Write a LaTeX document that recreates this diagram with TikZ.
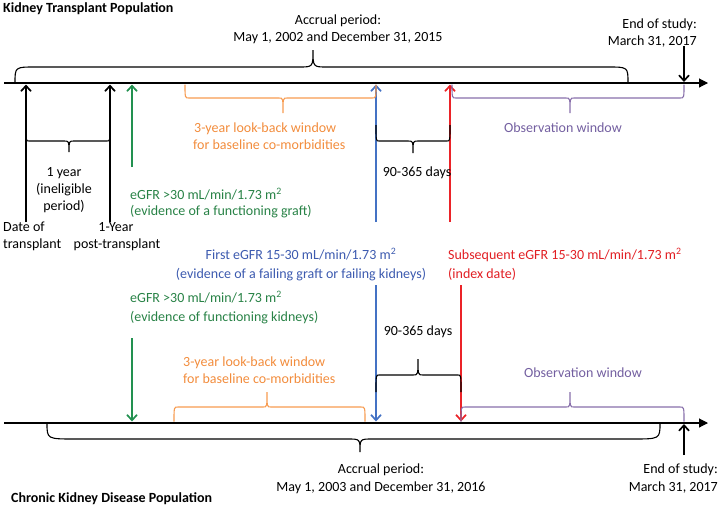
\documentclass[tikz,border=0pt]{standalone}
\usepackage{fontspec}
\setmainfont{Carlito}
\usetikzlibrary{arrows.meta}
\definecolor{kgreen}{RGB}{34,145,80}
\definecolor{kgreentxt}{RGB}{40,130,70}
\definecolor{kblue}{RGB}{68,114,196}
\definecolor{kbluetxt}{RGB}{60,90,175}
\definecolor{kred}{RGB}{235,35,40}
\definecolor{kredtxt}{RGB}{225,30,35}
\definecolor{korange}{RGB}{247,155,80}
\definecolor{korangetxt}{RGB}{242,140,60}
\definecolor{kpurple}{RGB}{135,110,170}
\definecolor{kpurpletxt}{RGB}{115,95,160}
% brace: style, x1, x2, xtip, yend, ybar, ytip, end radius, tip radius
\newcommand{\tlbrace}[9]{\draw[#1] (#2,#5) .. controls (#2,#6) .. ({#2+#8},#6) -- ({#4-#9},#6) .. controls (#4,#6) .. (#4,#7) .. controls (#4,#6) .. ({#4+#9},#6) -- ({#3-#8},#6) .. controls (#3,#6) .. (#3,#5);}
\tikzset{
  timeline/.style={line width=1.1pt, -{Triangle[length=9pt,width=9pt]}},
  evarrow/.style={line width=1.2pt, -{Straight Barb[length=5.5pt,width=10pt,line width=1.7pt]}},
  brc/.style={line width=1.1pt},
  lt/.style={inner sep=0pt, anchor=base west, font=\fontsize{14}{17}\selectfont},
  ct/.style={inner sep=0pt, anchor=base, font=\fontsize{14}{17}\selectfont},
  rt/.style={inner sep=0pt, anchor=base east, font=\fontsize{14}{17}\selectfont},
  title/.style={inner sep=0pt, anchor=base west, font=\fontsize{14}{17}\selectfont\bfseries},
}
\begin{document}
\begin{tikzpicture}[x=1pt,y=-1pt]
\useasboundingbox (0,0) rectangle (720,507);
% ---------------- timelines
\coordinate (tl0) at (4,83);  \coordinate (tl1) at (708,83);
\coordinate (bl0) at (4,423); \coordinate (bl1) at (708,423);
\draw[timeline] (tl0) -- (tl1);
\draw[timeline] (bl0) -- (bl1);

% ---------------- top section
\node[title] (ttitle) at (3,12) {Kidney Transplant Population};
\tlbrace{brc,black}{15}{628}{313}{83}{67}{50}{20}{14}
\node[ct] (tacc1) at (338,24) {Accrual period:};
\node[ct] (tacc2) at (338,41) {May 1, 2002 and December 31, 2015};
\node[rt] (tend1) at (697,28) {End of study:};
\node[rt] (tend2) at (697,45) {March 31, 2017};
\coordinate (tE0) at (684,46); \coordinate (tE1) at (684,82);
\draw[evarrow,black] (tE0) -- (tE1);

\coordinate (tA0) at (26,222);  \coordinate (tA1) at (26,84.5);
\coordinate (tB0) at (110,222); \coordinate (tB1) at (110,84.5);
\coordinate (tG0) at (132,167); \coordinate (tG1) at (132,84.5);
\coordinate (tU0) at (376,222); \coordinate (tU1) at (376,84.5);
\coordinate (tR0) at (450,222); \coordinate (tR1) at (450,84.5);
\draw[evarrow,black] (tA0) -- (tA1);
\draw[evarrow,black] (tB0) -- (tB1);
\draw[evarrow,kgreen] (tG0) -- (tG1);
\draw[evarrow,kblue] (tU0) -- (tU1);
\draw[evarrow,kred] (tR0) -- (tR1);

\tlbrace{brc,black}{26}{110}{69}{125}{141}{152}{3}{5}
\node[ct] (ty1) at (64,176) {1 year};
\node[ct] (ty2) at (64,193) {(ineligible};
\node[ct] (ty3) at (64,210) {period)};
\node[lt] (tdate1) at (3,231.5) {Date of};
\node[lt] (tdate2) at (3,248.5) {transplant};
\node[ct] (tpost1) at (116,231.5) {1-Year};
\node[ct] (tpost2) at (117,248.5) {post-transplant};

\node[lt,text=kgreentxt] (tgr1) at (130,199.5) {eGFR >30 mL/min/1.73 m\textsuperscript{2}};
\node[lt,text=kgreentxt] (tgr2) at (130,215.5) {(evidence of a functioning graft)};

\tlbrace{brc,korange}{185}{376}{283}{84.5}{98}{113}{4}{4}
\node[lt,text=korangetxt] (tor1) at (194,132.5) {3-year look-back window};
\node[lt,text=korangetxt] (tor2) at (193,149.5) {for baseline co-morbidities};

\tlbrace{brc,black}{376}{450}{413}{125}{141}{153}{3}{5}
\node[ct] (tdays) at (417,176.5) {90-365 days};

\tlbrace{brc,kpurple}{452}{684}{570}{84.5}{98}{113}{4}{4}
\node[ct,text=kpurpletxt] (tobs) at (563,132.5) {Observation window};

% ---------------- middle texts
\node[ct,text=kbluetxt] (mb1) at (301,259.5) {First eGFR 15-30 mL/min/1.73 m\textsuperscript{2}};
\node[ct,text=kbluetxt] (mb2) at (301,278.5) {(evidence of a failing graft or failing kidneys)};
\node[lt,text=kredtxt] (mr1) at (448,259.5) {Subsequent eGFR 15-30 mL/min/1.73 m\textsuperscript{2}};
\node[lt,text=kredtxt] (mr2) at (448,278.5) {(index date)};

% ---------------- bottom section
\node[lt,text=kgreentxt] (bgr1) at (130,302.5) {eGFR >30 mL/min/1.73 m\textsuperscript{2}};
\node[lt,text=kgreentxt] (bgr2) at (130,321.5) {(evidence of functioning kidneys)};

\coordinate (bG0) at (132,338); \coordinate (bG1) at (132,421.5);
\coordinate (bU0) at (376,285); \coordinate (bU1) at (376,421.5);
\coordinate (bR0) at (461,285); \coordinate (bR1) at (461,421.5);
\draw[evarrow,kgreen] (bG0) -- (bG1);
\draw[evarrow,kblue] (bU0) -- (bU1);
\draw[evarrow,kred] (bR0) -- (bR1);

\tlbrace{brc,black}{376}{461}{418}{392}{375}{359}{3}{5}
\node[ct] (bdays) at (418,335.5) {90-365 days};

\tlbrace{brc,korange}{174}{365}{267}{421.5}{407}{392}{4}{4}
\node[lt,text=korangetxt] (bor1) at (183,366.5) {3-year look-back window};
\node[lt,text=korangetxt] (bor2) at (183,383.5) {for baseline co-morbidities};

\tlbrace{brc,kpurple}{461}{684}{570}{421.5}{407}{392}{4}{4}
\node[ct,text=kpurpletxt] (bobs) at (583,377.5) {Observation window};

\tlbrace{brc,black}{47}{660}{360}{423}{439}{452}{28}{12}
\node[ct] (bacc1) at (381,473.5) {Accrual period:};
\node[ct] (bacc2) at (381,491.5) {May 1, 2003 and December 31, 2016};

\coordinate (bE0) at (684,455); \coordinate (bE1) at (684,424);
\draw[evarrow,black] (bE0) -- (bE1);
\node[rt] (bend1) at (718,473.5) {End of study:};
\node[rt] (bend2) at (718,491.5) {March 31, 2017};

\node[title] (btitle) at (11,502.5) {Chronic Kidney Disease Population};
\end{tikzpicture}
\end{document}
